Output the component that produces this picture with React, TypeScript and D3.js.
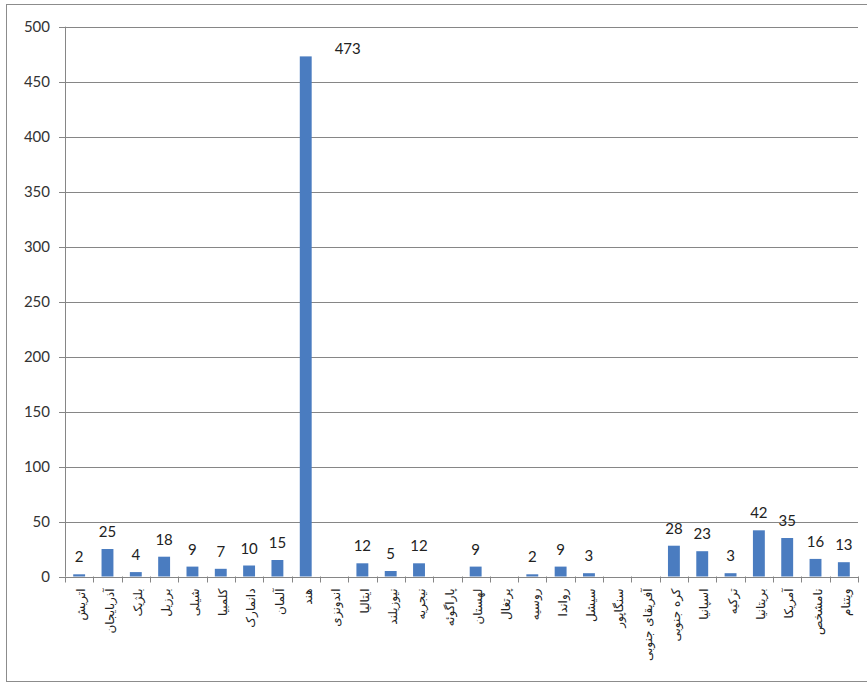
import React from "react";
import * as d3 from "d3";

const categories: string[] = [
  "اتریش", "آذربایجان", "بلژیک", "برزیل", "شیلی", "کلمبیا", "دانمارک", "آلمان",
  "هند", "اندونزی", "ایتالیا", "نیوزیلند", "نیجریه", "پاراگوئه", "لهستان", "پرتغال",
  "روسیه", "رواندا", "سیشل", "سنگاپور", "آفریقای جنوبی", "کره جنوبی", "اسپانیا",
  "ترکیه", "بریتانیا", "آمریکا", "نامشخص", "ویتنام",
];
const values: number[] = [
  2, 25, 4, 18, 9, 7, 10, 15, 473, 0, 12, 5, 12, 0, 9, 0, 2, 9, 3, 0, 0, 28, 23, 3, 42, 35, 16, 13,
];
const yTicks: number[] = [0, 50, 100, 150, 200, 250, 300, 350, 400, 450, 500];

const W = 867;
const H = 683;
const left = 65;
const right = 858;
const top = 26.7;
const bottom = 576.5;

export default function App() {
  const x = d3
    .scaleBand<string>()
    .domain(categories)
    .range([left, right])
    .paddingInner(0.58)
    .paddingOuter(0.29);
  const y = d3.scaleLinear().domain([0, 500]).range([bottom, top]);
  const step = x.step();
  const numFont = "Lato, 'Open Sans', sans-serif";

  return (
    <svg
      width={W}
      height={H}
      style={{ position: "absolute", left: 0, top: 0, background: "#fff" }}
    >
      <rect x={6.5} y={4.5} width={W} height={677} fill="#fff" stroke="#8c8c8c" strokeWidth={1} />
      {/* gridlines */}
      {yTicks.map((t) => (
        <g key={t}>
          <line
            x1={left - 6}
            x2={right}
            y1={Math.round(y(t)) + 0.5}
            y2={Math.round(y(t)) + 0.5}
            stroke="#868686"
            strokeWidth={1}
          />
          <text
            x={50}
            y={y(t)}
            dy="0.35em"
            textAnchor="end"
            fontFamily={numFont}
            fontSize={15}
            fill="#333"
          >
            {t}
          </text>
        </g>
      ))}
      {/* y axis */}
      <line x1={left + 0.5} x2={left + 0.5} y1={top} y2={bottom} stroke="#868686" />
      {/* x ticks */}
      {d3.range(categories.length + 1).map((i) => {
        const xx = Math.round(left + i * step) + 0.5;
        return (
          <line key={i} x1={xx} x2={xx} y1={bottom} y2={bottom + 6} stroke="#868686" />
        );
      })}
      {/* bars */}
      {categories.map((c, i) => (
        <rect
          key={c}
          x={x(c)!}
          y={y(values[i])}
          width={x.bandwidth()}
          height={bottom - y(values[i])}
          fill="#4a7cc0"
        />
      ))}
      {/* value labels */}
      {categories.map((c, i) => {
        const v = values[i];
        if (v === 0) return null;
        const cx = x(c)! + x.bandwidth() / 2;
        const isMax = v === d3.max(values);
        return (
          <text
            key={c}
            x={isMax ? cx + 42 : cx}
            y={isMax ? y(v) - 2 : y(v) - 12}
            textAnchor="middle"
            fontFamily={numFont}
            fontSize={15}
            fill="#222"
          >
            {v}
          </text>
        );
      })}
      {/* category labels */}
      {categories.map((c) => {
        const cx = x(c)! + x.bandwidth() / 2 + 2;
        return (
          <text
            key={c}
            transform={`translate(${cx},${bottom + 12}) rotate(-90)`}
            textAnchor="end"
            dy="0.35em"
            fontFamily="'DejaVu Sans', sans-serif"
            fontSize={12}
            fill="#222"
          >
            {c}
          </text>
        );
      })}
    </svg>
  );
}
